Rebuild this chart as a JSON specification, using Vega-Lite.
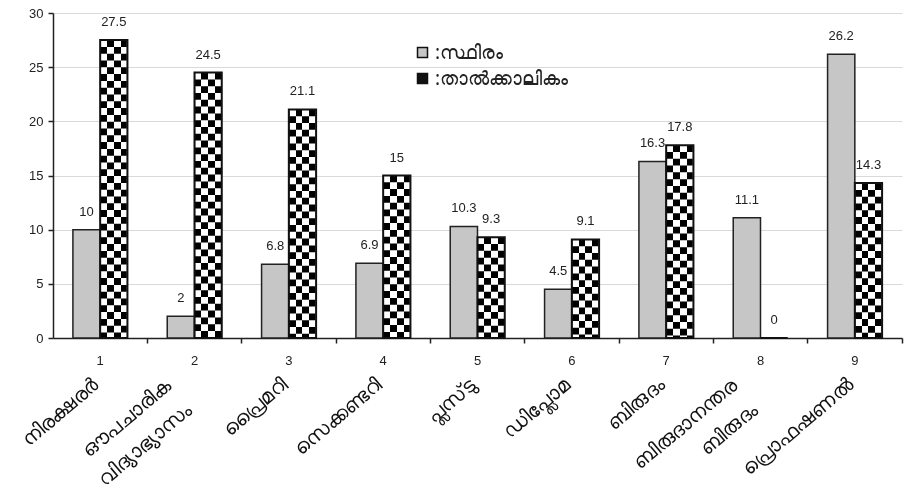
{
  "$schema": "https://vega.github.io/schema/vega-lite/v6.json",
  "width": 849,
  "height": 325,
  "autosize": {"type": "none"},
  "padding": {"left": 53, "top": 13, "right": 5, "bottom": 155},
  "background": "white",
  "config": {
    "view": {"stroke": null},
    "font": "Liberation Sans",
    "axis": {"labelFont": "Liberation Sans", "labelColor": "#222", "titleFont": "Liberation Sans"}
  },
  "data": {
    "values": [
      {"cat": "1|നിരക്ഷരർ", "type": "സ്ഥിരം", "v": 10},
      {"cat": "1|നിരക്ഷരർ", "type": "താൽക്കാലികം", "v": 27.5},
      {"cat": "2|ഔപചാരിക/വിദ്യാഭ്യാസം", "type": "സ്ഥിരം", "v": 2},
      {"cat": "2|ഔപചാരിക/വിദ്യാഭ്യാസം", "type": "താൽക്കാലികം", "v": 24.5},
      {"cat": "3|പ്രൈമറി", "type": "സ്ഥിരം", "v": 6.8},
      {"cat": "3|പ്രൈമറി", "type": "താൽക്കാലികം", "v": 21.1},
      {"cat": "4|സെക്കണ്ടറി", "type": "സ്ഥിരം", "v": 6.9},
      {"cat": "4|സെക്കണ്ടറി", "type": "താൽക്കാലികം", "v": 15},
      {"cat": "5|പ്ലസ്‌ടു", "type": "സ്ഥിരം", "v": 10.3},
      {"cat": "5|പ്ലസ്‌ടു", "type": "താൽക്കാലികം", "v": 9.3},
      {"cat": "6|ഡിപ്ലോമ", "type": "സ്ഥിരം", "v": 4.5},
      {"cat": "6|ഡിപ്ലോമ", "type": "താൽക്കാലികം", "v": 9.1},
      {"cat": "7|ബിരുദം", "type": "സ്ഥിരം", "v": 16.3},
      {"cat": "7|ബിരുദം", "type": "താൽക്കാലികം", "v": 17.8},
      {"cat": "8|ബിരുദാനന്തര/ബിരുദം", "type": "സ്ഥിരം", "v": 11.1},
      {"cat": "8|ബിരുദാനന്തര/ബിരുദം", "type": "താൽക്കാലികം", "v": 0},
      {"cat": "9|പ്രൊഫഷണൽ", "type": "സ്ഥിരം", "v": 26.2},
      {"cat": "9|പ്രൊഫഷണൽ", "type": "താൽക്കാലികം", "v": 14.3}
    ]
  },
  "layer": [
    {
      "transform": [{"filter": "datum.type === 'സ്ഥിരം'"}],
      "mark": {"type": "bar", "stroke": "#222", "strokeWidth": 1.5},
      "encoding": {
        "x": {
          "field": "cat", "type": "nominal", "sort": null,
          "scale": {"paddingInner": 0, "paddingOuter": 0},
          "axis": {
            "orient": "bottom", "title": null, "labels": false, "grid": false,
            "bandPosition": 1, "ticks": true, "tickSize": 5, "tickColor": "#222", "tickWidth": 1.5,
            "domain": true, "domainColor": "#222", "domainWidth": 1.5
          }
        },
        "xOffset": {
          "field": "type", "type": "nominal",
          "scale": {"domain": ["സ്ഥിരം", "താൽക്കാലികം"], "paddingInner": 0, "paddingOuter": 0.73}
        },
        "y": {
          "field": "v", "type": "quantitative",
          "scale": {"domain": [0, 30], "nice": false},
          "axis": {
            "title": null, "values": [0, 5, 10, 15, 20, 25, 30], "grid": true, "gridColor": "#d9d9d9", "gridWidth": 1,
            "domainColor": "#222", "domainWidth": 1.5, "tickColor": "#222", "tickWidth": 1.5, "tickSize": 5,
            "labelFontSize": 13, "labelPadding": 5
          }
        },
        "color": {
          "field": "type", "type": "nominal",
          "scale": {"domain": ["സ്ഥിരം", "താൽക്കാലികം"], "range": ["#c6c6c6", "#111111"]},
          "legend": {
            "title": null, "orient": "none", "legendX": 360, "legendY": 30,
            "symbolType": "square", "symbolSize": 100, "symbolStrokeColor": "#111", "symbolStrokeWidth": 1.5,
            "labelFont": "Noto Sans", "labelFontSize": 19, "labelColor": "#222", "labelOffset": 3,
            "rowPadding": 6, "labelExpr": "':' + datum.label"
          }
        }
      }
    },
    {
      "transform": [{"filter": "datum.type === 'താൽക്കാലികം'"}],
      "mark": {
        "type": "bar",
        "fill": {
          "gradient": "linear", "x1": 0, "y1": 0, "x2": 1, "y2": 0,
          "stops": [
            {"offset": 0, "color": "#000000"},
            {"offset": 0.25, "color": "#000000"},
            {"offset": 0.25, "color": "#ffffff"},
            {"offset": 0.5, "color": "#ffffff"},
            {"offset": 0.5, "color": "#000000"},
            {"offset": 0.75, "color": "#000000"},
            {"offset": 0.75, "color": "#ffffff"},
            {"offset": 1, "color": "#ffffff"}
          ]
        },
        "strokeWidth": 0
      },
      "encoding": {
        "x": {
          "field": "cat", "type": "nominal", "sort": null,
          "axis": {
            "orient": "bottom", "title": null, "ticks": false, "tickSize": 0, "domain": false, "grid": false,
            "labelAngle": 0, "labelPadding": 16, "labelFontSize": 13, "labelBaseline": "top", "labelAlign": "center",
            "labelExpr": "split(datum.label, '|')[0]"
          }
        },
        "xOffset": {"field": "type", "type": "nominal"},
        "y": {"field": "v", "type": "quantitative"}
      }
    },
    {
      "transform": [{"filter": "datum.type === 'താൽക്കാലികം'"}],
      "mark": {"type": "rule", "stroke": "#ffffff", "strokeWidth": 26, "strokeDash": [6.8, 6.8], "blend": "difference"},
      "encoding": {
        "x": {
          "field": "cat", "type": "nominal", "sort": null,
          "axis": {
            "orient": "bottom", "title": null, "ticks": false, "tickSize": 0, "domain": false, "grid": false,
            "labelAngle": -40, "labelAlign": "right", "labelBaseline": "middle",
            "labelPadding": {"condition": {"test": "indexof(datum.value, '/') >= 0", "value": 45}, "value": 44},
            "labelOffset": {"condition": {"test": "indexof(datum.value, '/') >= 0", "value": -26}, "value": -4},
            "labelFont": "Noto Sans", "labelFontSize": 20, "labelLineHeight": 32, "labelLimit": 0,
            "labelOverlap": false, "labelBound": false, "labelColor": "#111",
            "labelExpr": "split(split(datum.label, '|')[1], '/')"
          }
        },
        "xOffset": {"field": "type", "type": "nominal"},
        "y": {"field": "v", "type": "quantitative"},
        "y2": {"datum": 0}
      }
    },
    {
      "transform": [{"filter": "datum.type === 'താൽക്കാലികം'"}],
      "mark": {"type": "bar", "fill": null, "fillOpacity": 0, "stroke": "#111", "strokeWidth": 2},
      "encoding": {
        "x": {"field": "cat", "type": "nominal", "sort": null, "axis": null},
        "xOffset": {"field": "type", "type": "nominal"},
        "y": {"field": "v", "type": "quantitative"}
      }
    },
    {
      "mark": {"type": "text", "font": "Liberation Sans", "fontSize": 13, "color": "#222", "baseline": "middle", "dy": -18},
      "encoding": {
        "x": {"field": "cat", "type": "nominal", "sort": null, "axis": null},
        "xOffset": {"field": "type", "type": "nominal"},
        "y": {"field": "v", "type": "quantitative"},
        "text": {"field": "v", "type": "quantitative"}
      }
    }
  ],
  "resolve": {"axis": {"x": "independent"}}
}
